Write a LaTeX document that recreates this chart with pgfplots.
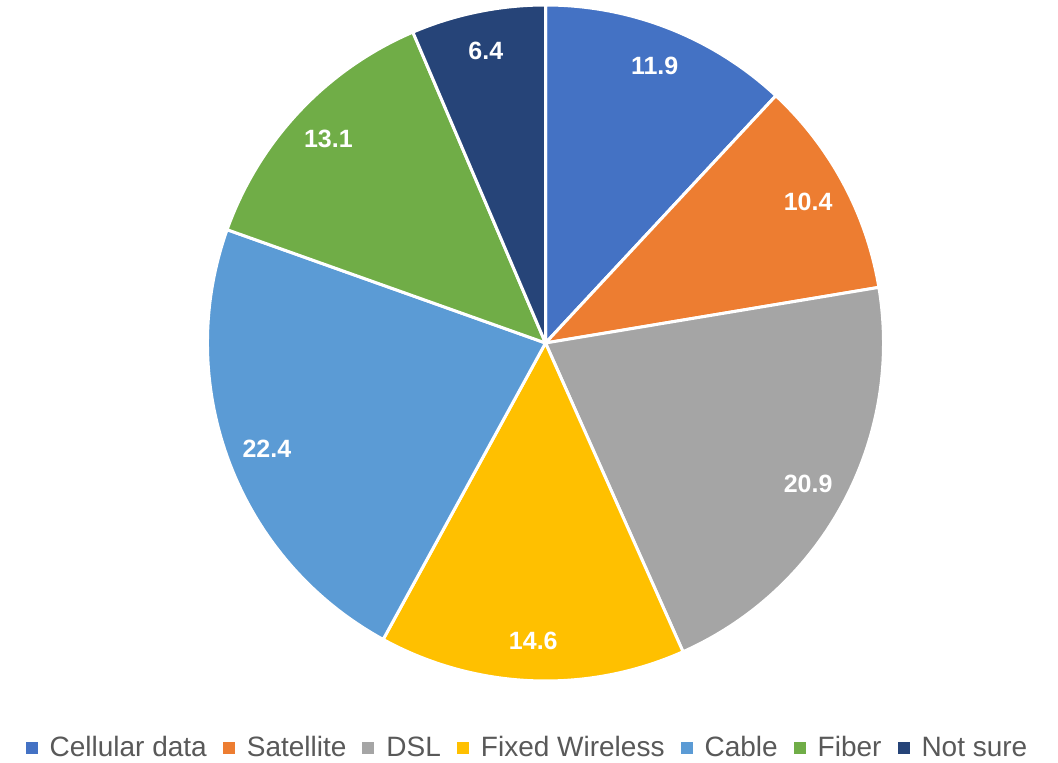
\documentclass[border=0pt]{standalone}
\usepackage{pgfplots}
\usepackage{pgfplotstable}
\pgfplotsset{compat=1.18}
\usepackage{fontspec}
\setmainfont{Liberation Sans}
\definecolor{cCell}{HTML}{4472C4}
\definecolor{cSat}{HTML}{ED7D31}
\definecolor{cDSL}{HTML}{A5A5A5}
\definecolor{cFix}{HTML}{FFC000}
\definecolor{cCab}{HTML}{5B9BD5}
\definecolor{cFib}{HTML}{70AD47}
\definecolor{cNot}{HTML}{264478}
\definecolor{legtext}{HTML}{595959}
\pgfplotstableread[col sep=comma]{
label,value,color
Cellular data,11.9,cCell
Satellite,10.4,cSat
DSL,20.9,cDSL
Fixed Wireless,14.6,cFix
Cable,22.4,cCab
Fiber,13.1,cFib
Not sure,6.4,cNot
}\piedata
% precompute slice angles from the table
\def\cum{0}
\def\total{99.7}
\pgfplotsforeachungrouped \i in {0,...,6}{%
  \pgfplotstablegetelem{\i}{value}\of\piedata \let\vv\pgfplotsretval
  \pgfplotstablegetelem{\i}{color}\of\piedata \expandafter\global\expandafter\let\csname col\i\endcsname\pgfplotsretval
  \pgfplotstablegetelem{\i}{label}\of\piedata \expandafter\global\expandafter\let\csname lab\i\endcsname\pgfplotsretval
  \expandafter\global\expandafter\let\csname val\i\endcsname\vv
  \pgfmathsetmacro\sa{90-\cum/\total*360}%
  \pgfmathsetmacro\ea{\sa-\vv/\total*360}%
  \pgfmathsetmacro\ma{(\sa+\ea)/2}%
  \expandafter\xdef\csname sa\i\endcsname{\sa}%
  \expandafter\xdef\csname ea\i\endcsname{\ea}%
  \expandafter\xdef\csname ma\i\endcsname{\ma}%
  \pgfmathsetmacro\cum{\cum+\vv}%
}
\begin{document}
\begin{tikzpicture}
\path[use as bounding box, fill=white] (0,0) rectangle (529pt,381pt);
\begin{axis}[
  at={(272.75pt,209.5pt)}, anchor=center,
  scale only axis, width=338pt, height=338pt,
  xmin=-1, xmax=1, ymin=-1, ymax=1,
  hide axis, clip=false,
  legend columns=7,
  legend image code/.code={\fill[#1, draw=none] (0pt,-3pt) rectangle (6pt,3pt);},
  legend style={at={(0.4719,-0.099)}, anchor=center, draw=none, fill=none,
    font=\fontsize{14}{16}\selectfont, text=legtext,
    nodes={inner sep=0pt},
    /tikz/every odd column/.append style={column sep=6pt},
    /tikz/every even column/.append style={column sep=8pt}},
]
\pgfplotsinvokeforeach{0,...,6}{%
  \edef\temp{%
    \noexpand\fill[fill=\csname col#1\endcsname, draw=white, line width=1.5pt, line join=round]
      (axis cs:0,0) -- (axis cs:{cos(\csname sa#1\endcsname)},{sin(\csname sa#1\endcsname)})
      arc[start angle=\csname sa#1\endcsname, end angle=\csname ea#1\endcsname, radius=169pt] -- cycle;
    \noexpand\node[text=white, font=\noexpand\bfseries\noexpand\fontsize{12.5}{14}\noexpand\selectfont]
      at (axis cs:{0.882*cos(\csname ma#1\endcsname)},{0.882*sin(\csname ma#1\endcsname)}) {\csname val#1\endcsname};
    \noexpand\addlegendimage{fill=\csname col#1\endcsname, draw=none}
    \noexpand\addlegendentry{\csname lab#1\endcsname}
  }%
  \temp
}
\end{axis}
\end{tikzpicture}
\end{document}
